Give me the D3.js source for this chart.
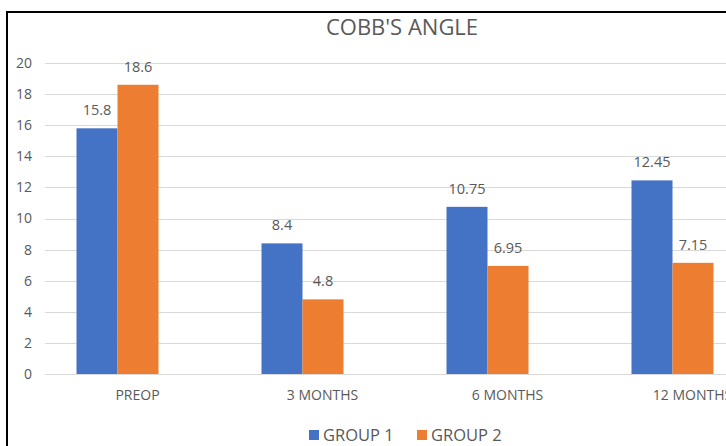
<!DOCTYPE html>
<html>
<head>
<meta charset="utf-8">
<script src="https://cdn.jsdelivr.net/npm/d3@7"></script>
<style>
  body { margin: 0; background: #fff; }
  svg { display: block; font-family: "Open Sans", "Liberation Sans", sans-serif; }
</style>
</head>
<body>
<div id="chart"></div>
<script>
let categories = ["PREOP", "3 MONTHS", "6 MONTHS", "12 MONTHS"];
let group1 = [15.8, 8.4, 10.75, 12.45];
let group2 = [18.6, 4.8, 6.95, 7.15];
let seriesNames = ["GROUP 1", "GROUP 2"];
let yTicks = [0, 2, 4, 6, 8, 10, 12, 14, 16, 18, 20];

let W = 726, H = 446;
let colors = ["#4472C4", "#ED7D31"];
let textCol = "#595959";

let svg = d3.select("#chart").append("svg")
  .attr("width", W).attr("height", H);

// frame (only top and left edges are visible in the crop)
svg.append("line").attr("x1", 6).attr("x2", W).attr("y1", 12).attr("y2", 12)
  .attr("stroke", "#000").attr("stroke-width", 2);
svg.append("line").attr("x1", 7).attr("x2", 7).attr("y1", 11).attr("y2", H)
  .attr("stroke", "#000").attr("stroke-width", 2);

let y = d3.scaleLinear().domain([0, 20]).range([374, 63]);
let x = d3.scaleBand().domain(categories).range([25, 765]);
let inner = d3.scaleBand().domain(seriesNames).range([x.bandwidth() / 2 - 41, x.bandwidth() / 2 + 41]);

// gridlines
svg.append("g").selectAll("line").data(yTicks).enter().append("line")
  .attr("x1", 45).attr("x2", W)
  .attr("y1", d => Math.round(y(d)) + 0.5).attr("y2", d => Math.round(y(d)) + 0.5)
  .attr("stroke", "#D9D9D9").attr("stroke-width", 1);

// y tick labels
svg.append("g").selectAll("text").data(yTicks).enter().append("text")
  .attr("x", 32).attr("y", d => y(d)).attr("dy", "0.35em")
  .attr("text-anchor", "end").attr("font-size", 14).attr("fill", textCol)
  .text(d => d);

// bars
let series = [group1, group2];
series.forEach(function(vals, s) {
  let g = svg.append("g");
  g.selectAll("rect").data(vals).enter().append("rect")
    .attr("x", (d, i) => x(categories[i]) + inner(seriesNames[s]))
    .attr("width", inner.bandwidth())
    .attr("y", d => y(d))
    .attr("height", d => y(0) - y(d))
    .attr("fill", colors[s]);
  g.selectAll("text").data(vals).enter().append("text")
    .attr("x", (d, i) => x(categories[i]) + inner(seriesNames[s]) + inner.bandwidth() / 2)
    .attr("y", d => y(d) - 13)
    .attr("text-anchor", "middle").attr("font-size", 14.5).attr("fill", textCol)
    .text(d => d);
});

// category labels (sit a bit right of the bar pair, as in the picture)
svg.append("g").selectAll("text").data(categories).enter().append("text")
  .attr("x", d => x(d) + x.bandwidth() / 2 + 20)
  .attr("y", 400)
  .attr("text-anchor", "middle").attr("font-size", 14).attr("fill", textCol)
  .text(d => d);

// title
svg.append("text").attr("x", 402).attr("y", 35)
  .attr("text-anchor", "middle").attr("font-size", 22).attr("fill", textCol)
  .text("COBB'S ANGLE");

// legend
let legX = [309, 417];
seriesNames.forEach(function(n, s) {
  svg.append("rect").attr("x", legX[s]).attr("y", 430).attr("width", 10).attr("height", 10)
    .attr("fill", colors[s]);
  svg.append("text").attr("x", legX[s] + 14).attr("y", 435).attr("dy", "0.35em")
    .attr("font-size", 16.5).attr("fill", textCol).text(n);
});
</script>
</body>
</html>
